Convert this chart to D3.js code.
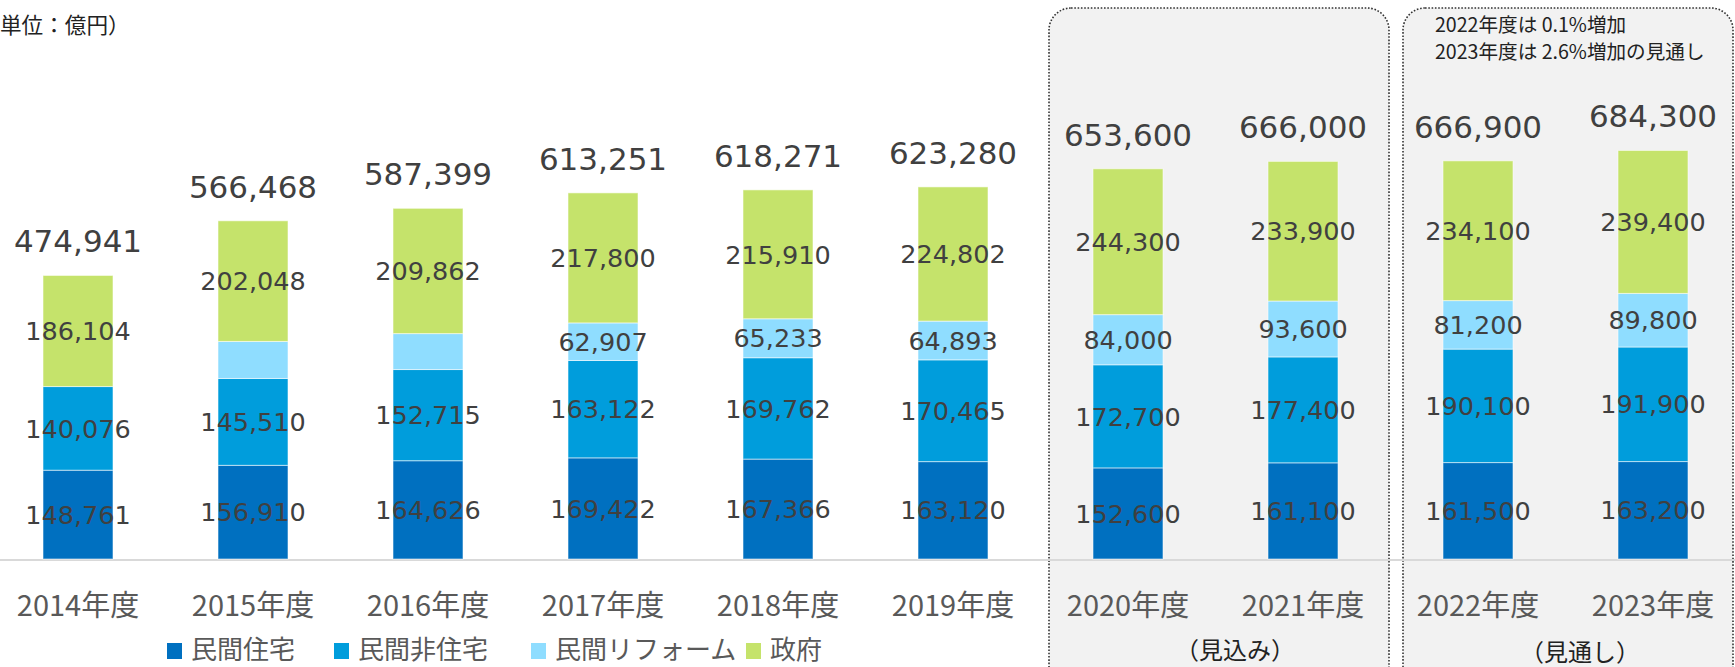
<!DOCTYPE html>
<html lang="ja">
<head>
<meta charset="utf-8">
<script src="https://cdn.jsdelivr.net/npm/d3@7"></script>
<style>
  html, body { margin: 0; padding: 0; background: #fff; overflow: hidden; }
  svg { display: block; }
</style>
</head>
<body>
<svg id="chart" width="1735" height="667"></svg>
<script>
// 建設投資の推移（単位：億円）
const years = ["2014年度", "2015年度", "2016年度", "2017年度", "2018年度",
               "2019年度", "2020年度", "2021年度", "2022年度", "2023年度"];
const seriesNames = ["民間住宅", "民間非住宅", "民間リフォーム", "政府"];
const housing    = [148761, 156910, 164626, 169422, 167366, 163120, 152600, 161100, 161500, 163200];
const nonHousing = [140076, 145510, 152715, 163122, 169762, 170465, 172700, 177400, 190100, 191900];
const reform     = [0, 62000, 60196, 62907, 65233, 64893, 84000, 93600, 81200, 89800];
const government = [186104, 202048, 209862, 217800, 215910, 224802, 244300, 233900, 234100, 239400];
const totals     = [474941, 566468, 587399, 613251, 618271, 623280, 653600, 666000, 666900, 684300];
// リフォームの数値表示は2017年度以降
const reformLabelled = [false, false, false, true, true, true, true, true, true, true];
const notes = ["2022年度は 0.1%増加", "2023年度は 2.6%増加の見通し"];
const groupNotes = ["（見込み）", "（見通し）"];

const colors = ["#0070C0", "#009DDC", "#8FDDFF", "#C5E36B"];
const numFont = "'DejaVu Sans', Verdana, sans-serif";
const jpFont = "'Noto Sans CJK JP', 'Noto Sans', sans-serif";
const fmt = d3.format(",");

const svg = d3.select("#chart");
const W = 1735, H = 667;
const baseY = 559;

const x = d3.scaleBand().domain(years).range([-9.5, 1740.5])
  .paddingInner(0.6).paddingOuter(0.3);
const y = d3.scaleLinear().domain([0, 700000]).range([baseY, baseY - 700000 / 1675]);

// 見込み・見通しの囲み
const panels = [
  { x0: 1049, x1: 1389 },
  { x0: 1403, x1: 1733 }
];
svg.append("g").selectAll("rect").data(panels).join("rect")
  .attr("x", d => d.x0).attr("y", 8)
  .attr("width", d => d.x1 - d.x0).attr("height", 700)
  .attr("rx", 22).attr("ry", 22)
  .attr("fill", "#F2F2F2")
  .attr("stroke", "#333").attr("stroke-width", 1.6)
  .attr("stroke-dasharray", "1.6,1.7");

// 軸線
svg.append("line")
  .attr("x1", 0).attr("x2", W).attr("y1", baseY + 1).attr("y2", baseY + 1)
  .attr("stroke", "#D9D9D9").attr("stroke-width", 2);

// 積み上げデータ
const table = years.map((yr, i) => ({
  year: yr,
  [seriesNames[0]]: housing[i],
  [seriesNames[1]]: nonHousing[i],
  [seriesNames[2]]: reform[i],
  [seriesNames[3]]: government[i],
  idx: i
}));
const stacked = d3.stack().keys(seriesNames)(table);

const layers = svg.append("g").selectAll("g").data(stacked).join("g")
  .attr("fill", (d, i) => colors[i]);
layers.selectAll("rect").data(d => d).join("rect")
  .attr("x", d => x(d.data.year))
  .attr("width", x.bandwidth())
  .attr("y", d => y(d[1]))
  .attr("height", d => Math.max(0, y(d[0]) - y(d[1])))
  .attr("stroke", "rgba(255,255,255,0.55)")
  .attr("stroke-width", 1);

// 内訳ラベル
const labelG = svg.append("g")
  .attr("font-family", numFont).attr("font-size", 25.5)
  .attr("fill", "#404040").attr("text-anchor", "middle");
stacked.forEach((layer, si) => {
  labelG.selectAll(null).data(layer.filter(d => {
    const v = d[1] - d[0];
    if (v <= 0) return false;
    if (si === 2 && !reformLabelled[d.data.idx]) return false;
    return true;
  })).join("text")
    .attr("x", d => x(d.data.year) + x.bandwidth() / 2)
    .attr("y", d => (y(d[0]) + y(d[1])) / 2)
    .attr("dy", "0.36em")
    .text(d => fmt(d[1] - d[0]));
});

// 合計ラベル
svg.append("g").selectAll("text").data(years).join("text")
  .attr("x", d => x(d) + x.bandwidth() / 2)
  .attr("y", (d, i) => y(totals[i]) - 23)
  .attr("text-anchor", "middle")
  .attr("font-family", numFont).attr("font-size", 31)
  .attr("fill", "#404040")
  .text((d, i) => fmt(totals[i]));

// 年度ラベル
svg.append("g").selectAll("text").data(years).join("text")
  .attr("x", d => x(d) + x.bandwidth() / 2)
  .attr("y", 616)
  .attr("text-anchor", "middle")
  .attr("font-family", jpFont).attr("font-size", 29)
  .attr("fill", "#595959")
  .text(d => d);

// 凡例
const legendX = [167, 334, 531, 746];
const legend = svg.append("g").selectAll("g").data(seriesNames).join("g")
  .attr("transform", (d, i) => `translate(${legendX[i]},0)`);
legend.append("rect")
  .attr("x", 0).attr("y", 643).attr("width", 15).attr("height", 16)
  .attr("fill", (d, i) => colors[i]);
legend.append("text")
  .attr("x", 24).attr("y", 659)
  .attr("font-family", jpFont).attr("font-size", 26)
  .attr("fill", "#595959")
  .text(d => d);

// 囲みの注記
svg.append("g").selectAll("text").data(groupNotes).join("text")
  .attr("x", (d, i) => [1235, 1580][i])
  .attr("y", (d, i) => [659, 661][i])
  .attr("text-anchor", "middle")
  .attr("font-family", jpFont).attr("font-size", 24)
  .attr("fill", "#222")
  .text(d => d);

svg.append("g").selectAll("text").data(notes).join("text")
  .attr("x", 1435)
  .attr("y", (d, i) => 32 + i * 27)
  .attr("font-family", jpFont).attr("font-size", 19.6)
  .attr("fill", "#222")
  .text(d => d);

// 単位
svg.append("text")
  .attr("x", -21.6).attr("y", 33)
  .attr("font-family", jpFont).attr("font-size", 21.6)
  .attr("fill", "#222")
  .text("（単位：億円）");
</script>
</body>
</html>
